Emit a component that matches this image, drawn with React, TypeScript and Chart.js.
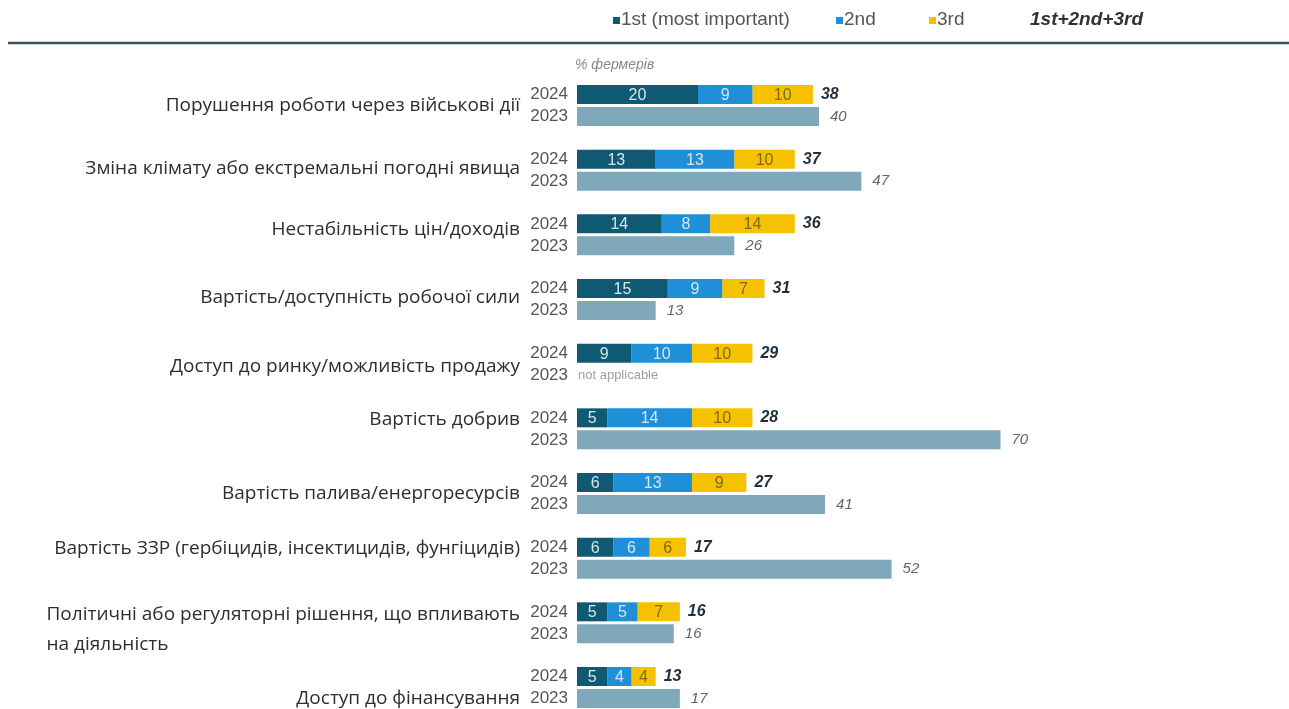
import React, { useEffect, useRef } from "react";
import { Chart, registerables } from "chart.js";

Chart.register(...registerables);

const categories: string[][] = [
  ["Порушення роботи через військові дії"],
  ["Зміна клімату або екстремальні погодні явища"],
  ["Нестабільність цін/доходів"],
  ["Вартість/доступність робочої сили"],
  ["Доступ до ринку/можливість продажу"],
  ["Вартість добрив"],
  ["Вартість палива/енергоресурсів"],
  ["Вартість ЗЗР (гербіцидів, інсектицидів, фунгіцидів)"],
  ["Політичні або регуляторні рішення, що впливають", "на діяльність"],
  ["Доступ до фінансування"],
];
const first2024 = [20, 13, 14, 15, 9, 5, 6, 6, 5, 5];
const second2024 = [9, 13, 8, 9, 10, 14, 13, 6, 5, 4];
const third2024 = [10, 10, 14, 7, 10, 10, 9, 6, 7, 4];
const total2024 = [38, 37, 36, 31, 29, 28, 27, 17, 16, 13];
const total2023: (number | null)[] = [40, 47, 26, 13, null, 70, 41, 52, 16, 17];
const yearLabels = ["2024", "2023"];
const legendLabels = ["1st (most important)", "2nd", "3rd", "1st+2nd+3rd"];
const notApplicableText = "not applicable";
const unitLabel = "% фермерів";

const C1 = "#0f5a72";
const C2 = "#1f8fd8";
const C3 = "#f6c200";
const C4 = "#7fa8ba";

const labelDy = [0, -2, -5, -2, 2, -9, 0, -10, -8, 0];

const NUM_FONT = "'Liberation Sans', Arial, sans-serif";
const LBL_FONT = "'Open Sans', 'Noto Sans', sans-serif";

const labelPlugin = {
  id: "customLabels",
  afterDatasetsDraw(chart: any) {
    const ctx = chart.ctx as CanvasRenderingContext2D;
    const xs = chart.scales.x;
    const ys = chart.scales.y;
    const x0 = xs.getPixelForValue(0);
    ctx.save();

    // legend
    ctx.textBaseline = "middle";
    ctx.textAlign = "left";
    ctx.font = `19px ${NUM_FONT}`;
    const legItems = [
      { sx: 613, tx: 621, color: C1 },
      { sx: 836, tx: 844, color: C2 },
      { sx: 929, tx: 937, color: C3 },
    ];
    legItems.forEach((it, k) => {
      ctx.fillStyle = it.color;
      ctx.fillRect(it.sx, 17, 7, 7);
      ctx.fillStyle = "#555";
      ctx.fillText(legendLabels[k], it.tx, 20);
    });
    ctx.font = `italic bold 19px ${NUM_FONT}`;
    ctx.fillStyle = "#333";
    ctx.fillText(legendLabels[3], 1030, 20);

    // rule line
    ctx.strokeStyle = "#3d5262";
    ctx.lineWidth = 2.5;
    ctx.beginPath();
    ctx.moveTo(8, 43);
    ctx.lineTo(chart.width, 43);
    ctx.stroke();

    // unit label
    ctx.font = `italic 14px ${NUM_FONT}`;
    ctx.fillStyle = "#888";
    ctx.fillText(unitLabel, x0 - 2, 65);

    const m0 = chart.getDatasetMeta(0);
    const m1 = chart.getDatasetMeta(1);
    const m2 = chart.getDatasetMeta(2);
    const m3 = chart.getDatasetMeta(3);
    const metas = [m0, m1, m2];
    const vals = [first2024, second2024, third2024];

    categories.forEach((lines, i) => {
      const center = ys.getPixelForValue(i);
      const y24 = m0.data[i].y;
      const y23 = 2 * center - y24;

      // category labels
      ctx.font = `19px ${LBL_FONT}`;
      ctx.fillStyle = "#2e2e2e";
      const rightX = x0 - 57;
      if (lines.length === 1) {
        ctx.textAlign = "right";
        const ly = i === categories.length - 1 ? y23 : center + labelDy[i];
        ctx.fillText(lines[0], rightX, ly);
      } else {
        ctx.textAlign = "left";
        const w = Math.max(...lines.map((l) => ctx.measureText(l).width));
        lines.forEach((l, k) => {
          ctx.fillText(l, rightX - w, center + labelDy[i] + k * 30);
        });
      }

      // year labels
      ctx.font = `17px ${NUM_FONT}`;
      ctx.fillStyle = "#555";
      ctx.textAlign = "right";
      ctx.fillText(yearLabels[0], x0 - 9, y24);
      ctx.fillText(yearLabels[1], x0 - 9, y23);

      // in-bar values
      ctx.textAlign = "center";
      ctx.font = `16px ${NUM_FONT}`;
      metas.forEach((m, d) => {
        const el = m.data[i];
        ctx.fillStyle = d === 2 ? "#7a6a1a" : "#d6e6ee";
        ctx.fillText(String(vals[d][i]), (el.x + el.base) / 2, y24 + 1);
      });

      // total 2024
      const endEl = m2.data[i];
      ctx.textAlign = "left";
      ctx.font = `italic bold 16px ${NUM_FONT}`;
      ctx.fillStyle = "#1f2f3f";
      ctx.fillText(String(total2024[i]), endEl.x + 8, y24);

      // 2023
      const v23 = total2023[i];
      if (v23 === null) {
        ctx.font = `13px ${NUM_FONT}`;
        ctx.fillStyle = "#a0a0a0";
        ctx.fillText(notApplicableText, x0 + 1, y23);
      } else {
        const el = m3.data[i];
        ctx.font = `italic 15px ${NUM_FONT}`;
        ctx.fillStyle = "#666";
        ctx.fillText(String(v23), el.x + 11, y23);
      }
    });

    ctx.restore();
  },
};

export default function App() {
  const ref = useRef<HTMLCanvasElement | null>(null);
  useEffect(() => {
    document.body.style.margin = "0";
    document.body.style.overflow = "hidden";
    const canvas = ref.current!;
    const barOpts = { categoryPercentage: 0.68, barPercentage: 0.864, clip: false as any };
    const chart = new Chart(canvas, {
      type: "bar",
      data: {
        labels: categories.map((c) => c.join(" ")),
        datasets: [
          { label: legendLabels[0], data: first2024, backgroundColor: C1, stack: "2024", ...barOpts },
          { label: legendLabels[1], data: second2024, backgroundColor: C2, stack: "2024", ...barOpts },
          { label: legendLabels[2], data: third2024, backgroundColor: C3, stack: "2024", ...barOpts },
          { label: yearLabels[1], data: total2023, backgroundColor: C4, stack: "2023", ...barOpts },
        ],
      },
      options: {
        indexAxis: "y",
        responsive: false,
        animation: false,
        events: [],
        layout: { padding: { left: 577, right: 1289 - 577 - 605, top: 105.5, bottom: 21.5 } },
        scales: {
          x: { display: false, min: 0, max: 100, stacked: true },
          y: { display: false, offset: false },
        },
        plugins: { legend: { display: false }, tooltip: { enabled: false } },
      },
      plugins: [labelPlugin],
    } as any);
    return () => chart.destroy();
  }, []);
  return <canvas ref={ref} width={1289} height={709} style={{ display: "block" }} />;
}
